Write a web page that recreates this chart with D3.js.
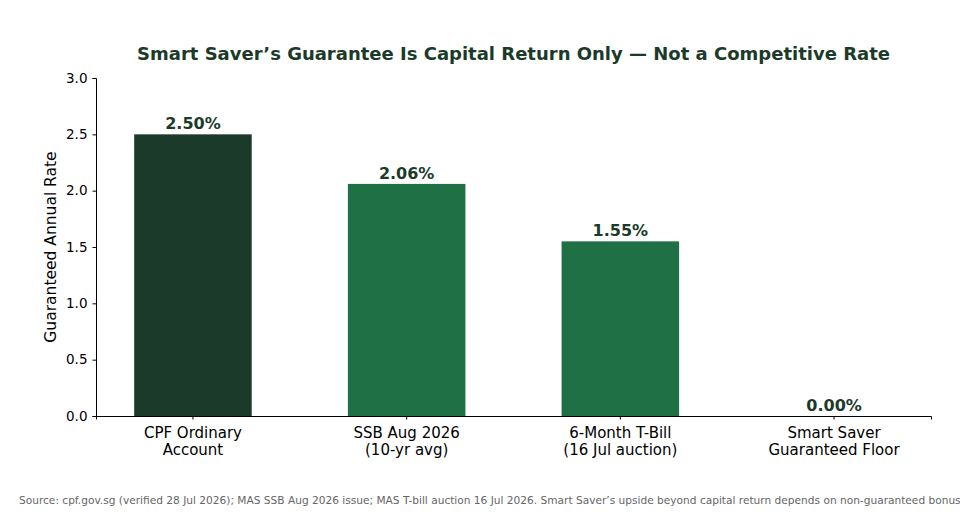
<!DOCTYPE html>
<html><head><meta charset="utf-8">
<script src="https://cdn.jsdelivr.net/npm/d3@7"></script>
<style>body{margin:0;background:#fff}svg{display:block}</style>
</head><body><svg id="c" width="960" height="520"></svg>
<script>
const categories = [["CPF Ordinary","Account"],["SSB Aug 2026","(10-yr avg)"],["6-Month T-Bill","(16 Jul auction)"],["Smart Saver","Guaranteed Floor"]];
const values = [2.50, 2.06, 1.55, 0.00];
const barColors = ["#1b3a2a","#1f7045","#1f7045","#1f7045"];
const yTicks = [0.0,0.5,1.0,1.5,2.0,2.5,3.0];
const title = "Smart Saver\u2019s Guarantee Is Capital Return Only \u2014 Not a Competitive Rate";
const yLabel = "Guaranteed Annual Rate";
const source = "Source: cpf.gov.sg (verified 28 Jul 2026); MAS SSB Aug 2026 issue; MAS T-bill auction 16 Jul 2026. Smart Saver\u2019s upside beyond capital return depends on non-guaranteed bonus";

const svg = d3.select("#c");
const L=96,R=931,T=78,B=416;
const x = d3.scaleBand().domain(d3.range(values.length)).range([L,R]).paddingInner(0.45).paddingOuter(0.1787);
const y = d3.scaleLinear().domain([0,3]).range([B,T]);
const font = "DejaVu Sans, sans-serif";

svg.selectAll("rect.bar").data(values).join("rect").attr("class","bar")
  .attr("x",(d,i)=>x(i)).attr("width",x.bandwidth())
  .attr("y",d=>y(d)).attr("height",d=>B-y(d)).attr("fill",(d,i)=>barColors[i]);

svg.selectAll("text.vl").data(values).join("text").attr("class","vl")
  .attr("x",(d,i)=>x(i)+x.bandwidth()/2).attr("y",d=>y(d)-5)
  .attr("text-anchor","middle").attr("font-family",font).attr("font-weight","bold")
  .attr("font-size",16).attr("fill","#1b3a2a").text(d=>d.toFixed(2)+"%");

const ya = svg.append("g").attr("transform",`translate(${L},0)`)
  .call(d3.axisLeft(y).tickValues(yTicks).tickFormat(d3.format(".1f")).tickSizeOuter(0).tickSize(3.5).tickPadding(5));
ya.selectAll("text").attr("font-family",font).attr("font-size",13.5).attr("fill","#000");
ya.select(".domain").attr("stroke","#000");
ya.selectAll(".tick line").attr("stroke","#000");

const xa = svg.append("g").attr("transform",`translate(0,${B})`)
  .call(d3.axisBottom(x).tickSizeOuter(0).tickSize(3.5).tickFormat(""));
xa.select(".domain").attr("stroke","#000");
xa.selectAll(".tick line").attr("stroke","#000");
xa.selectAll(".tick").each(function(d){
  const t = d3.select(this).append("text").attr("fill","#000").attr("font-family",font).attr("font-size",15).attr("text-anchor","middle");
  categories[d].forEach((s,k)=>t.append("tspan").attr("x",0).attr("y",22+k*17).text(s));
});

svg.append("text").attr("transform",`rotate(-90,56,${(B+T)/2})`)
  .attr("x",56).attr("y",(B+T)/2).attr("text-anchor","middle").attr("font-family",font).attr("font-size",15.5).attr("fill","#000").text(yLabel);

svg.append("text").attr("x",(L+R)/2).attr("y",60).attr("text-anchor","middle")
  .attr("font-family",font).attr("font-weight","bold").attr("font-size",18).attr("fill","#1b3a2a").text(title);

svg.append("text").attr("x",19).attr("y",504).attr("font-family",font).attr("font-size",10.6).attr("fill","#666").text(source);
</script></body></html>
